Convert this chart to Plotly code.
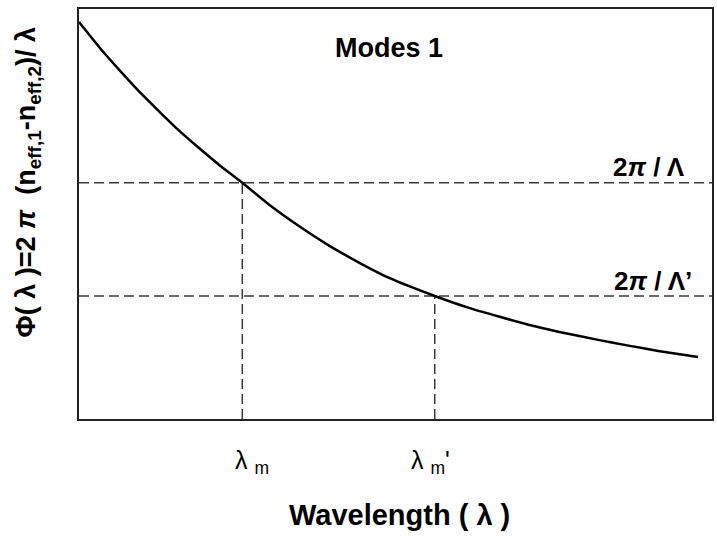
import plotly.graph_objects as go

# Phase-matching curve Φ(λ) sampled along the wavelength axis (arbitrary units)
wavelength = [0.0, 3.3, 6.5, 9.6, 12.8, 15.9, 19.1, 22.2, 25.8, 30.1, 34.8, 39.5,
              44.3, 49.0, 56.2, 61.6, 66.3, 71.0, 75.7, 82.0, 86.8, 91.5, 97.8]
phase = [96.8, 90.5, 84.9, 79.7, 74.8, 70.2, 65.9, 61.9, 57.6, 52.2, 47.0, 42.3,
         38.1, 34.4, 30.0, 27.1, 25.0, 23.0, 21.3, 19.3, 17.9, 16.6, 15.1]

# Grating levels 2π/Λ and 2π/Λ' and the matching wavelengths λm, λm'
grating_levels = [57.6, 30.0]
grating_labels = ["2<i>π</i> / Λ", "2<i>π</i> / Λ’"]
match_wavelengths = [25.8, 56.2]
match_labels = ["λ <sub>m</sub>", "λ <sub>m</sub>'"]

FONT = "Arial, Liberation Sans, sans-serif"
DASH_COLOR = "#3a3a3a"

fig = go.Figure()

# horizontal dashed guides
for lvl in grating_levels:
    fig.add_trace(go.Scatter(
        x=[0, 100], y=[lvl, lvl], mode="lines",
        line=dict(color=DASH_COLOR, width=1.5, dash="10px,5px"),
        hoverinfo="skip", showlegend=False))

# vertical dashed drops to the wavelength axis
for wl, lvl in zip(match_wavelengths, grating_levels):
    fig.add_trace(go.Scatter(
        x=[wl, wl], y=[0, lvl], mode="lines",
        line=dict(color=DASH_COLOR, width=1.5, dash="10px,5px"),
        hoverinfo="skip", showlegend=False))

# main curve
fig.add_trace(go.Scatter(
    x=wavelength, y=phase, mode="lines",
    line=dict(color="black", width=2.5, shape="spline", smoothing=0.6),
    hoverinfo="skip", showlegend=False))


def label(text, x, y, size, angle=0):
    return dict(text=text, x=x, y=y, xref="paper", yref="paper",
                xanchor="center", yanchor="middle", textangle=angle,
                showarrow=False, font=dict(family=FONT, size=size, color="black"))


annotations = [
    label("<b>Modes 1</b>", 0.490, 0.905, 27),
    label("<b>Wavelength ( λ )</b>", 0.506, -0.234, 29),
    label("<b>Φ( λ )=2 <i>π</i>  (n<sub>eff,1</sub>-n<sub>eff,2</sub>)/ λ</b>",
          -0.080, 0.578, 27, angle=-90),
]

label_x = [0.274, 0.556]
for txt, lx in zip(match_labels, label_x):
    annotations.append(label(txt, lx, -0.105, 25))

label_y = [0.615, 0.337]
label_xs = [0.901, 0.907]
for txt, ly, lx in zip(grating_labels, label_y, label_xs):
    annotations.append(label("<b>" + txt + "</b>", lx, ly, 26))

fig.update_layout(
    width=717, height=539,
    margin=dict(l=79, r=3, t=9, b=120),
    paper_bgcolor="white", plot_bgcolor="white",
    xaxis=dict(range=[0, 100], showgrid=False, zeroline=False,
               showticklabels=False, ticks="",
               showline=True, mirror=True, linecolor="#222", linewidth=2),
    yaxis=dict(range=[0, 100], showgrid=False, zeroline=False,
               showticklabels=False, ticks="",
               showline=True, mirror=True, linecolor="#222", linewidth=2),
    annotations=annotations,
)

fig.write_html("out.html")
